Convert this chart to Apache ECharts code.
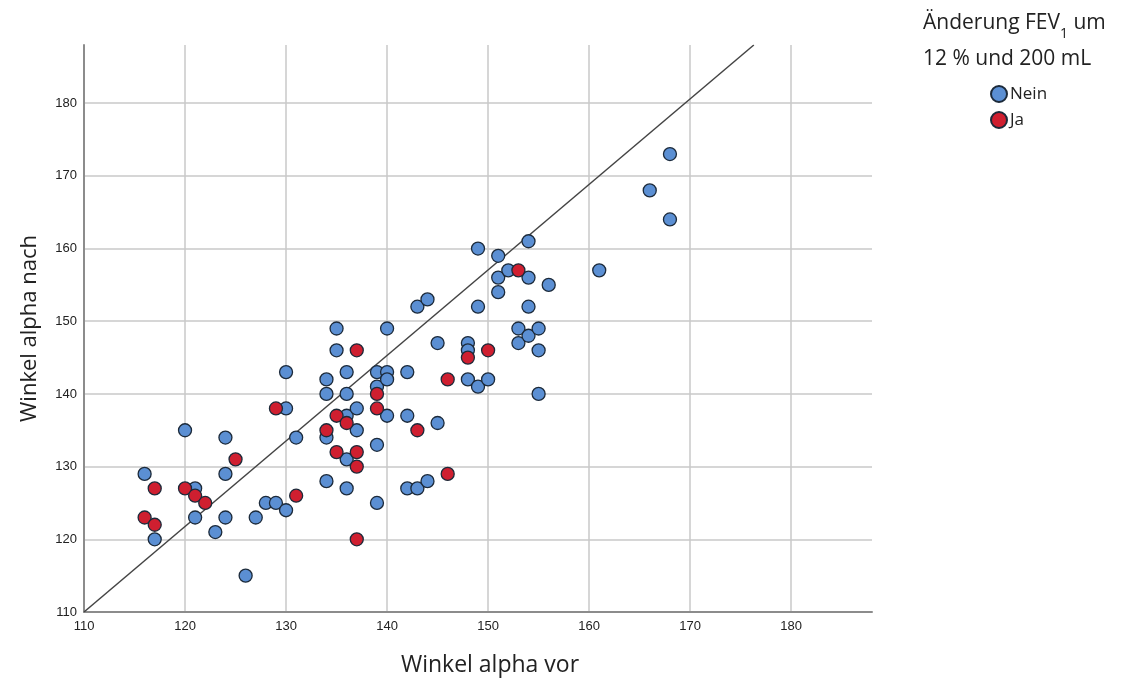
<!DOCTYPE html>
<html>
<head>
<meta charset="utf-8">
<script src="https://cdn.jsdelivr.net/npm/echarts@6/dist/echarts.min.js"></script>
<style>
  html, body { margin: 0; padding: 0; background: #fff; }
  #chart { width: 1141px; height: 682px; }
</style>
</head>
<body>
<div id="chart"></div>
<script>
// [Winkel alpha vor, Winkel alpha nach]
const neinPoints = [
  [116, 129], [117, 120], [120, 135], [121, 127], [121, 123], [123, 121],
  [124, 134], [124, 129], [124, 123], [126, 115], [127, 123], [128, 125],
  [129, 125], [130, 143], [130, 138], [130, 124], [131, 134],
  [134, 142], [134, 140], [134, 134], [134, 128], [135, 149], [135, 146],
  [136, 143], [136, 140], [136, 137], [136, 131], [136, 127], [137, 138],
  [137, 135], [139, 143], [139, 141], [139, 133], [139, 125], [140, 149],
  [140, 143], [140, 142], [140, 137], [142, 143], [142, 137], [142, 127],
  [143, 152], [143, 127], [144, 153], [144, 128], [145, 147], [145, 136],
  [148, 147], [148, 146], [148, 142], [149, 160], [149, 152], [149, 141],
  [150, 142], [151, 159], [151, 156], [151, 154], [152, 157], [153, 149],
  [153, 147], [154, 161], [154, 156], [154, 152], [154, 148], [155, 149],
  [155, 146], [155, 140], [156, 155], [161, 157], [166, 168], [168, 173],
  [168, 164]
];
const jaPoints = [
  [116, 123], [117, 127], [117, 122], [120, 127], [121, 126], [122, 125],
  [125, 131], [129, 138], [131, 126], [134, 135], [135, 137], [135, 132],
  [136, 136], [137, 146], [137, 132], [137, 130], [137, 120], [139, 140],
  [139, 138], [143, 135], [146, 142], [146, 129], [148, 145], [150, 146],
  [153, 157]
];
const refLine = [[110, 110], [176.3, 188]];
const axisMin = 110;
const axisMax = 188;
const tickStep = 10;

const chart = echarts.init(document.getElementById('chart'));

const labelStyle = {
  color: '#222',
  fontFamily: 'Liberation Sans, Arial, sans-serif',
  fontSize: 13,
};

function makeAxis(name, nameGap, nameSize, namePad, isY) {
  return {
    type: 'value',
    min: axisMin,
    max: axisMax,
    interval: tickStep,
    name: name,
    nameLocation: 'middle',
    nameGap: nameGap,
    nameRotate: isY ? 90 : 0,
    nameTextStyle: {
      color: '#222',
      fontFamily: 'Open Sans, Noto Sans, sans-serif',
      fontSize: nameSize,
      padding: namePad,
    },
    axisLine: { show: true, lineStyle: { color: '#8c8c8c', width: 2 } },
    axisTick: { show: false },
    axisLabel: Object.assign({ margin: isY ? 7 : 8, showMaxLabel: false }, labelStyle),
    splitLine: {
      show: true,
      showMaxLine: false,
      lineStyle: { color: '#c8c8c8', width: 1.5 },
    },
  };
}

const pointStyle = (fill) => ({
  color: fill,
  borderColor: '#1c2a3a',
  borderWidth: 1.3,
  opacity: 1,
});

chart.setOption({
  backgroundColor: '#fff',
  animation: false,
  grid: { left: 84, right: 269, top: 45, bottom: 70 },
  xAxis: makeAxis('Winkel alpha vor', 42, 23, [0, 0, 0, 24], false),
  yAxis: makeAxis('Winkel alpha nach', 43, 22, 0, true),
  legend: {
    orient: 'vertical',
    left: 985,
    top: 80,
    itemWidth: 16,
    itemHeight: 16,
    itemGap: 8,
    data: [
      { name: 'Nein', icon: 'circle' },
      { name: 'Ja', icon: 'circle' },
    ],
    textStyle: {
      color: '#222',
      fontFamily: 'Open Sans, Noto Sans, sans-serif',
      fontSize: 17,
      padding: [0, 0, 0, -2],
    },
  },
  graphic: [
    {
      type: 'text',
      left: 923,
      top: 13,
      style: {
        text: '{a|Änderung FEV}{s|1}{a| um}\n{a|12 % und 200 mL}',
        rich: {
          a: {
            fontFamily: 'Open Sans, Noto Sans, sans-serif',
            fontSize: 21,
            lineHeight: 36,
            fill: '#222',
          },
          s: {
            fontFamily: 'Open Sans, Noto Sans, sans-serif',
            fontSize: 14,
            lineHeight: 36,
            fill: '#222',
            verticalAlign: 'bottom',
            padding: [12, 0, 0, 0],
          },
        },
      },
    },
  ],
  series: [
    {
      name: 'Referenz',
      type: 'line',
      data: refLine,
      symbol: 'none',
      silent: true,
      lineStyle: { color: '#444', width: 1.5 },
      z: 1,
    },
    {
      name: 'Nein',
      type: 'scatter',
      data: neinPoints,
      symbolSize: 13,
      itemStyle: pointStyle('#5b8fd3'),
      z: 3,
    },
    {
      name: 'Ja',
      type: 'scatter',
      data: jaPoints,
      symbolSize: 13,
      itemStyle: pointStyle('#cf1f30'),
      z: 4,
    },
  ],
});
</script>
</body>
</html>
